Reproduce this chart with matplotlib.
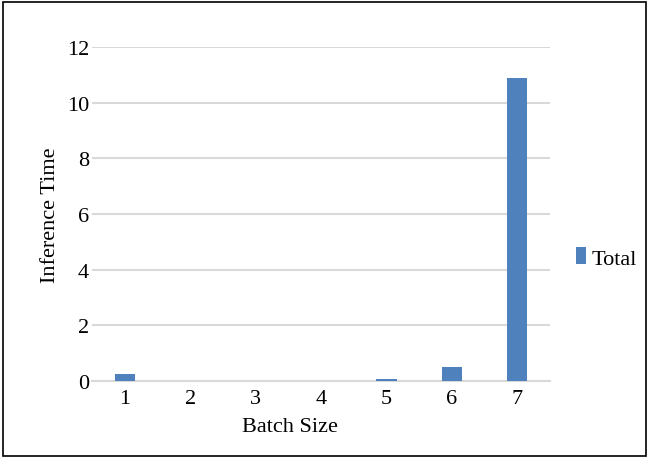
"""
Inference time per batch size, drawn as an Excel-style bar chart.
"""
import matplotlib

matplotlib.use("Agg")

import matplotlib.pyplot as plt
from matplotlib.patches import Rectangle

BATCH_SIZES = ["1", "2", "3", "4", "5", "6", "7"]
TOTAL_TIME = [0.25, 0.0, 0.0, 0.0, 0.07, 0.5, 10.9]
Y_TICKS = [0, 2, 4, 6, 8, 10, 12]

BAR_COLOR = "#4F81BD"
GRID_COLOR = "#D9D9D9"
FONT_SIZE = 16

plt.rcParams["font.family"] = ["Liberation Serif", "DejaVu Serif"]

fig = plt.figure(figsize=(6.49, 4.60), dpi=100)
W, H = 649, 460

# outer frame around the whole chart
fig.patches.append(
    Rectangle((3 / W, 3 / H), 643 / W, 454 / H, transform=fig.transFigure,
              fill=False, edgecolor="black", linewidth=1.2)
)

ax = fig.add_axes([92 / W, 1 - 382 / H, 458 / W, 334 / H])
x = range(len(BATCH_SIZES))
ax.bar(x, TOTAL_TIME, width=0.31, color=BAR_COLOR, label="Total", zorder=3)

ax.set_xlim(-0.5, len(BATCH_SIZES) - 0.5)
ax.set_ylim(0, 12)
ax.set_yticks(Y_TICKS)
ax.set_xticks(list(x))
ax.set_xticklabels(BATCH_SIZES)
ax.tick_params(axis="both", length=0, labelsize=FONT_SIZE)
ax.tick_params(axis="y", pad=2)
ax.tick_params(axis="x", pad=6)
ax.grid(axis="y", color=GRID_COLOR, linewidth=1.5, zorder=0)
ax.set_axisbelow(True)
for side in ("top", "right", "left"):
    ax.spines[side].set_visible(False)
ax.spines["bottom"].set_color(GRID_COLOR)
ax.spines["bottom"].set_linewidth(1.5)

ax.set_xlabel("Batch Size", fontsize=FONT_SIZE)
ax.xaxis.set_label_coords((290 - 92) / 458, -36 / 334)
ax.set_ylabel("Inference Time", fontsize=FONT_SIZE, labelpad=5)

fig.legend(loc="center left", bbox_to_anchor=(567 / W, 1 - 259 / H),
           frameon=False, fontsize=FONT_SIZE, handlelength=0.45, handleheight=0.8,
           handletextpad=0.25, borderaxespad=0)

fig.savefig("out.png", dpi=100)
